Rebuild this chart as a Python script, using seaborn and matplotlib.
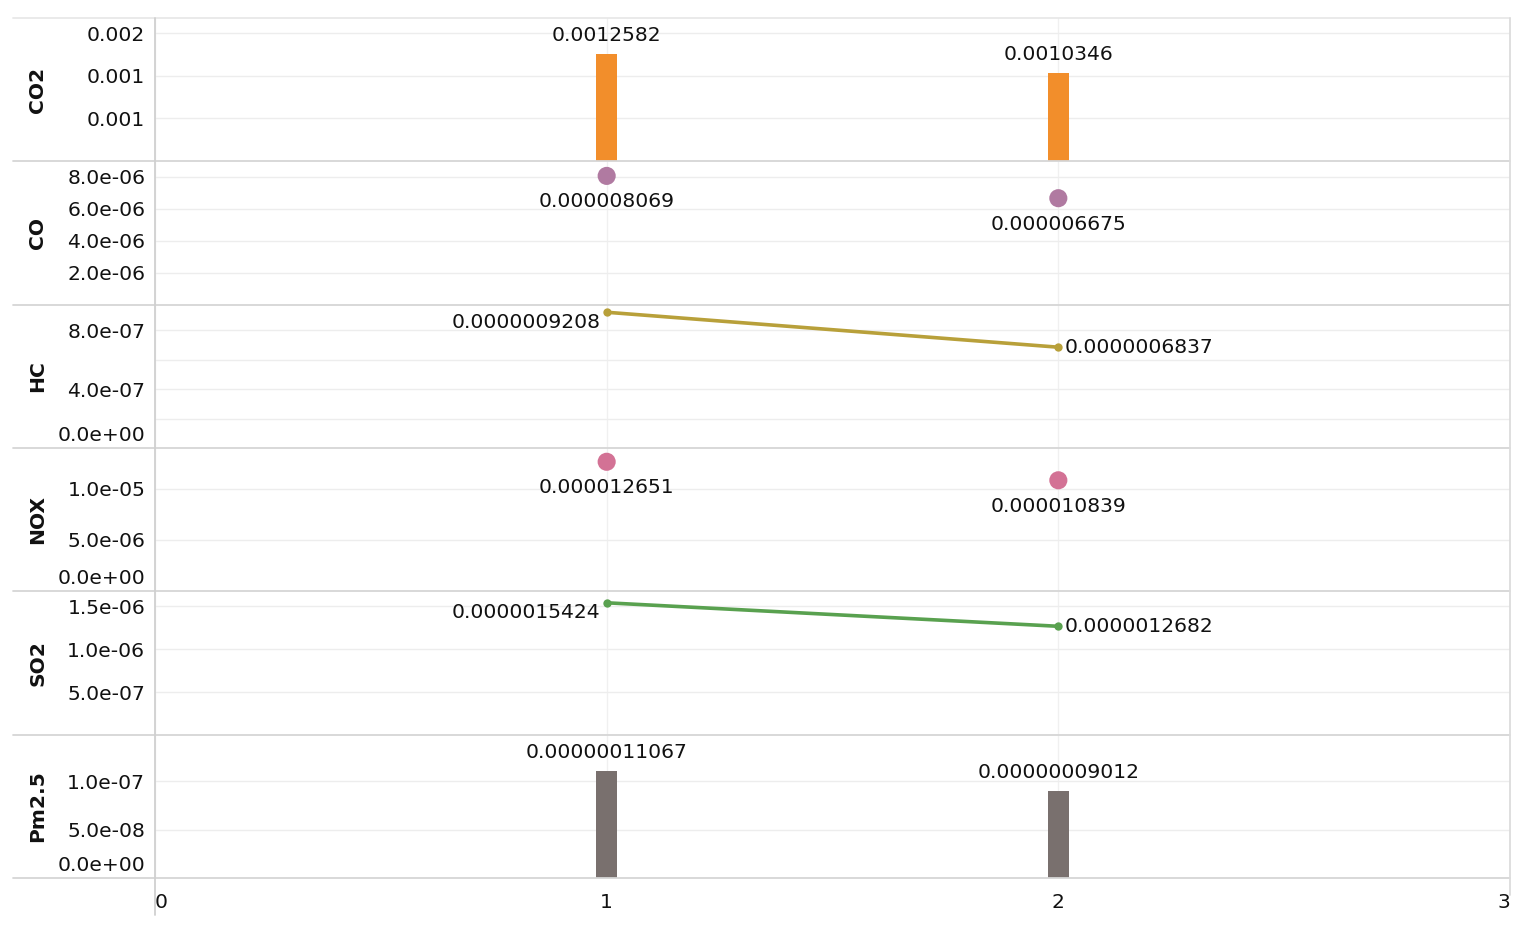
import numpy as np
import pandas as pd
import matplotlib
matplotlib.use('Agg')
import matplotlib.pyplot as plt
import seaborn as sns
from matplotlib.lines import Line2D
from matplotlib.transforms import ScaledTranslation

# data
x_vals = [1, 2]
names = ['CO2', 'CO', 'HC', 'NOX', 'SO2', 'Pm2.5']
co2 = [0.0012582, 0.0010346]
co = [0.000008069, 0.000006675]
hc = [0.0000009208, 0.0000006837]
nox = [0.000012651, 0.000010839]
so2 = [0.0000015424, 0.0000012682]
pm25 = [0.00000011067, 0.00000009012]
series = [co2, co, hc, nox, so2, pm25]
x_ticks = [0, 1, 2, 3]

# per panel look: mark type, colour, y range, y ticks, tick format
panel_kind = ['bar', 'dot', 'line', 'dot', 'line', 'bar']
panel_color = ['#F28E2B', '#B07AA1', '#B8A03A', '#D37295', '#59A14F', '#79706E']
panel_ymax = [0.00168, 9.0e-6, 9.7e-7, 1.4e-5, 1.68e-6, 1.475e-7]
panel_ticks = [
    [0.0005, 0.001, 0.0015],
    [2e-6, 4e-6, 6e-6, 8e-6],
    [0, 4e-7, 8e-7],
    [0, 5e-6, 1e-5],
    [5e-7, 1e-6, 1.5e-6],
    [0, 5e-8, 1e-7],
]
panel_fmt = ['%.3f', '%.1e', '%.1e', '%.1e', '%.1e', '%.1e']

sns.set_theme(style='white')
plt.rcParams['font.family'] = ['DejaVu Sans']
FS = 14.6
TXT = '#111111'

W, H = 1525, 930
fig = plt.figure(figsize=(W / 100, H / 100), dpi=100)

edges = [18, 161, 305, 448, 591, 735, 878]
left_px, right_px = 155, 1510

for i, name in enumerate(names):
    top, bot = edges[i], edges[i + 1]
    ax = fig.add_axes([left_px / W, 1 - bot / H, (right_px - left_px) / W, (bot - top) / H])
    df = pd.DataFrame({'x': x_vals, 'y': series[i]})
    kind = panel_kind[i]
    col = panel_color[i]

    if kind == 'bar':
        sns.barplot(data=df, x='x', y='y', native_scale=True, width=0.047, color=col,
                    saturation=1, errorbar=None, linewidth=0, ax=ax, zorder=3)
    elif kind == 'line':
        sns.lineplot(data=df, x='x', y='y', color=col, linewidth=2.6, marker='o',
                     markersize=6, markeredgewidth=0, ax=ax, zorder=3)
    else:
        sns.scatterplot(data=df, x='x', y='y', color=col, s=170, edgecolor='none', ax=ax, zorder=3)

    ax.set_xlim(0, 3)
    ax.set_ylim(0, panel_ymax[i])
    ax.set_xlabel('')
    ax.set_ylabel('')
    for s in ax.spines.values():
        s.set_visible(False)

    ax.set_xticks(x_ticks)
    ax.grid(axis='x', color='#F0F0F0', linewidth=1)
    ax.grid(axis='y', color='#EDEDED', linewidth=1)
    if name == 'HC':
        ax.set_yticks([2e-7, 6e-7], minor=True)
        ax.grid(axis='y', which='minor', color='#EDEDED', linewidth=1)
        ax.tick_params(axis='y', which='minor', length=0)

    ax.tick_params(axis='y', length=0, pad=7, labelsize=FS, labelcolor=TXT)
    ticks = panel_ticks[i]
    ax.set_yticks(ticks, [panel_fmt[i] % t for t in ticks])
    off = ScaledTranslation(0, 3 / 100, fig.dpi_scale_trans)
    for lbl in ax.get_yticklabels():
        if lbl.get_text() == '0.0e+00':
            lbl.set_va('bottom')
            lbl.set_transform(lbl.get_transform() + off)

    if i == len(names) - 1:
        ax.tick_params(axis='x', length=0, pad=11, labelsize=FS, labelcolor=TXT)
        ax.set_xticklabels([str(t) for t in x_ticks])
        xl = ax.get_xticklabels()
        xl[0].set_ha('left')
        xl[-1].set_ha('right')
    else:
        ax.tick_params(axis='x', length=0, labelbottom=False)

    # value labels
    for j, (xv, yv) in enumerate(zip(x_vals, series[i])):
        txt = np.format_float_positional(yv)
        if kind == 'bar':
            dx, dy, ha = 0, 18, 'center'
        elif kind == 'dot':
            dx, dy, ha = 0, -26, 'center'
        elif j == 0:
            dx, dy, ha = -6, -10, 'right'
        else:
            dx, dy, ha = 6, 0, 'left'
        ax.annotate(txt, (xv, yv), xytext=(dx, dy), textcoords='offset pixels',
                    ha=ha, va='center', fontsize=FS, color=TXT, zorder=4)

    fig.text(38 / W, 1 - (top + bot) / 2 / H, name, rotation=90, ha='center', va='center',
             fontsize=FS, fontweight='bold', color=TXT)

# frame lines like the reference layout
for k, y in enumerate(edges):
    c = '#E8E8E8' if k == 0 else '#D6D6D6'
    fig.add_artist(Line2D([13 / W, right_px / W], [1 - y / H] * 2, color=c, linewidth=1.3))
fig.add_artist(Line2D([left_px / W] * 2, [1 - 18 / H, 1 - 915 / H], color='#D0D0D0', linewidth=1.3))
fig.add_artist(Line2D([right_px / W] * 2, [1 - 18 / H, 1 - 895 / H], color='#DCDCDC', linewidth=1.3))

fig.savefig('out.png', dpi=100, facecolor='white')
